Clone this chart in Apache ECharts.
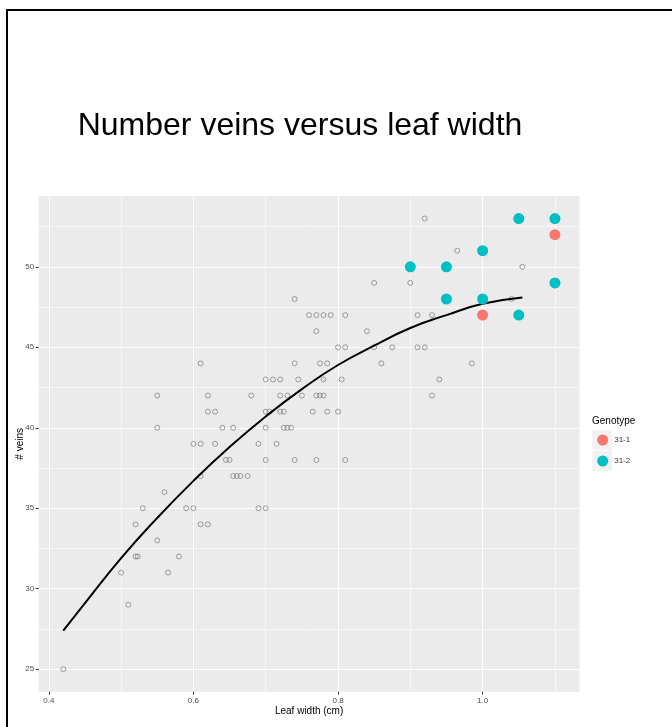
<!DOCTYPE html>
<html><head><meta charset="utf-8">
<script src="https://cdn.jsdelivr.net/npm/echarts@6/dist/echarts.min.js"></script>
<style>html,body{margin:0;padding:0;background:#fff}#c{width:672px;height:727px}</style>
</head><body><div id="c"></div>
<script>
// ---- data ----
const xTicks = [0.4, 0.6, 0.8, 1.0];
const xMinor = [0.5, 0.7, 0.9, 1.1];
const yTicks = [25, 30, 35, 40, 45, 50];
const yMinor = [27.5, 32.5, 37.5, 42.5, 47.5, 52.5];

// hollow (all plants) points: leaf width (cm) and # veins
const plainWidth = [0.92,0.965,1.055,0.85,0.90,0.74,1.04,0.76,0.77,0.78,0.79,0.81,0.91,0.93,0.77,0.84,
  0.80,0.81,0.85,0.875,0.91,0.92,0.61,0.74,0.775,0.785,0.86,0.985,0.70,0.71,0.72,0.745,0.78,0.805,0.94,
  0.55,0.62,0.68,0.72,0.73,0.75,0.77,0.775,0.78,0.93,0.62,0.63,0.70,0.705,0.72,0.725,0.765,0.785,0.80,
  0.55,0.64,0.655,0.70,0.725,0.73,0.735,0.60,0.61,0.63,0.69,0.715,0.645,0.65,0.70,0.74,0.77,0.81,
  0.61,0.655,0.66,0.665,0.675,0.56,0.53,0.59,0.60,0.69,0.70,0.52,0.61,0.62,0.55,0.52,0.523,0.58,0.50,0.565,0.51,0.42];
const plainVeins = [53,51,50,49,49,48,48,47,47,47,47,47,47,47,46,46,
  45,45,45,45,45,45,44,44,44,44,44,44,43,43,43,43,43,43,43,
  42,42,42,42,42,42,42,42,42,42,41,41,41,41,41,41,41,41,41,
  40,40,40,40,40,40,40,39,39,39,39,39,38,38,38,38,38,38,
  37,37,37,37,37,36,35,35,35,35,35,34,34,34,33,32,32,32,31,31,29,25];

// genotype 31-1
const g1Width = [1.10, 1.00];
const g1Veins = [52, 47];
// genotype 31-2
const g2Width = [1.05, 1.10, 1.00, 0.90, 0.95, 1.10, 0.95, 1.00, 1.05];
const g2Veins = [53, 53, 51, 50, 50, 49, 48, 48, 47];

// fitted trend curve
const fitWidth = [0.42, 0.45, 0.50, 0.55, 0.60, 0.65, 0.70, 0.75, 0.80, 0.85, 0.90, 0.95, 1.00, 1.055];
const fitVeins = [27.4, 29.1, 31.9, 34.4, 36.7, 38.8, 40.7, 42.4, 43.9, 45.1, 46.2, 47.0, 47.7, 48.1];

const zip = (a, b) => a.map((v, i) => [v, b[i]]);
const FONT = 'Liberation Sans, Arial, sans-serif';

const chart = echarts.init(document.getElementById('c'), null, {renderer: 'canvas'});
const XMIN = 0.386, XMAX = 1.134, YMIN = 23.6, YMAX = 54.4;

chart.setOption({
  animation: false,
  backgroundColor: '#fff',
  title: {
    text: 'Number veins versus leaf width',
    left: 77.7, top: 110, padding: 0,
    textStyle: {fontSize: 32, fontWeight: 'normal', color: '#000', fontFamily: FONT}
  },
  grid: {left: 38.7, right: 92.5, top: 196, bottom: 35.3, show: true, backgroundColor: '#EBEBEB', borderWidth: 0, containLabel: false},
  xAxis: [
    {type: 'value', min: XMIN, max: XMAX, position: 'bottom',
     axisLine: {show: false, onZero: false},
     axisTick: {show: true, length: 3, customValues: xTicks, lineStyle: {color: '#333', width: 1}},
     axisLabel: {customValues: xTicks, formatter: v => v.toFixed(1), fontSize: 8, color: '#4D4D4D', margin: 5, fontFamily: FONT},
     splitLine: {show: true, lineStyle: {color: '#FFFFFF', width: 1.1}},
     name: 'Leaf width (cm)', nameLocation: 'middle', nameGap: 15, nameMoveOverlap: false,
     nameTextStyle: {fontSize: 10, color: '#000', fontFamily: FONT}},
    {type: 'value', min: XMIN, max: XMAX, position: 'top',
     axisLine: {show: false, onZero: false},
     axisTick: {show: false, customValues: xMinor},
     axisLabel: {show: false, customValues: xMinor},
     splitLine: {show: true, lineStyle: {color: '#FFFFFF', width: 0.55}}}
  ],
  yAxis: [
    {type: 'value', min: YMIN, max: YMAX, position: 'left',
     axisLine: {show: false, onZero: false},
     axisTick: {show: true, length: 3, customValues: yTicks, lineStyle: {color: '#333', width: 1}},
     axisLabel: {customValues: yTicks, fontSize: 8, color: '#4D4D4D', margin: 4.5, fontFamily: FONT},
     splitLine: {show: true, lineStyle: {color: '#FFFFFF', width: 1.1}},
     name: '# veins', nameLocation: 'middle', nameGap: 13, nameRotate: 90, nameMoveOverlap: false,
     nameTextStyle: {fontSize: 10, color: '#000', fontFamily: FONT}},
    {type: 'value', min: YMIN, max: YMAX, position: 'right',
     axisLine: {show: false, onZero: false},
     axisTick: {show: false, customValues: yMinor},
     axisLabel: {show: false, customValues: yMinor},
     splitLine: {show: true, lineStyle: {color: '#FFFFFF', width: 0.55}}}
  ],
  legend: {
    data: ['31-1', '31-2'], orient: 'vertical', left: 597.2, top: 434.5, padding: 0,
    itemWidth: 11, itemHeight: 11, itemGap: 10, icon: 'circle',
    textStyle: {fontSize: 8, color: '#333', fontFamily: FONT, padding: [0, 0, 0, 1]}
  },
  graphic: [
    {type: 'rect', z: 0, shape: {x: 7, y: 10, width: 720, height: 760}, style: {fill: 'none', stroke: '#000', lineWidth: 2}},
    {type: 'rect', z: 1, shape: {x: 592.3, y: 430.3, width: 19.6, height: 20}, style: {fill: '#F2F2F2'}},
    {type: 'rect', z: 1, shape: {x: 592.3, y: 451, width: 19.6, height: 20}, style: {fill: '#F2F2F2'}},
    {type: 'text', z: 5, x: 592, y: 421, style: {text: 'Genotype', font: '10px ' + FONT, fill: '#000', verticalAlign: 'middle', align: 'left'}}
  ],
  series: [
    {type: 'scatter', name: 'all', xAxisIndex: 0, yAxisIndex: 0, data: zip(plainWidth, plainVeins),
     symbol: 'circle', symbolSize: 5, silent: true, z: 2,
     itemStyle: {color: 'rgba(0,0,0,0)', borderColor: '#6E6E6E', borderWidth: 0.8}},
    {type: 'line', name: 'fit', xAxisIndex: 0, yAxisIndex: 0, data: zip(fitWidth, fitVeins),
     showSymbol: false, smooth: true, silent: true, z: 3,
     lineStyle: {color: '#000', width: 2}},
    {type: 'scatter', name: '31-1', xAxisIndex: 0, yAxisIndex: 0, data: zip(g1Width, g1Veins),
     symbol: 'circle', symbolSize: 11, z: 4, itemStyle: {color: '#F8766D', opacity: 1}},
    {type: 'scatter', name: '31-2', xAxisIndex: 0, yAxisIndex: 0, data: zip(g2Width, g2Veins),
     symbol: 'circle', symbolSize: 11, z: 4, itemStyle: {color: '#00BFC4', opacity: 1}}
  ]
});
</script></body></html>
